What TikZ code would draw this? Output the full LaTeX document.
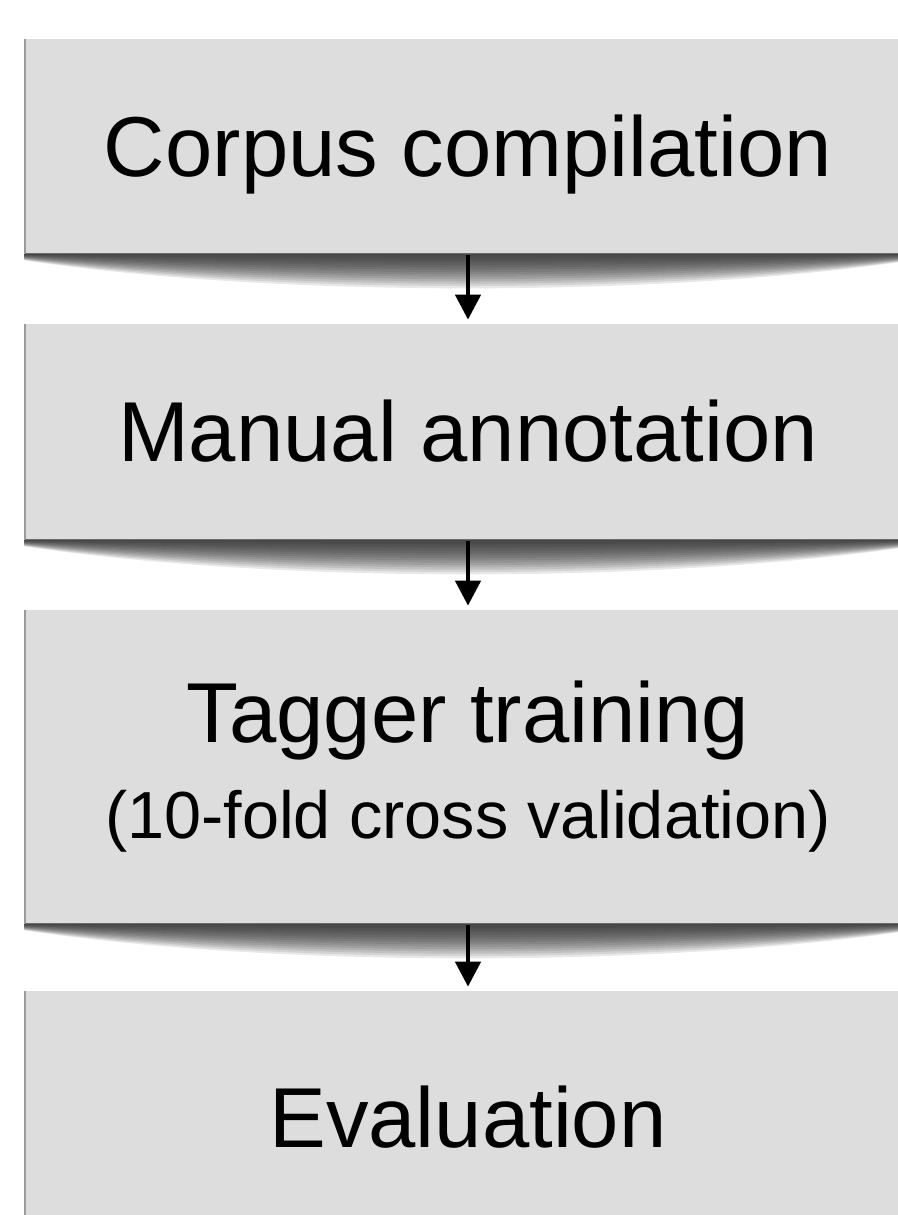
\documentclass[tikz,border=0pt]{standalone}
\usepackage{fontspec}
\setmainfont{Liberation Sans}
\usepackage{xcolor}
\usepackage{tikz}
\usetikzlibrary{arrows.meta}
\definecolor{stageGray}{HTML}{DDDDDD}
\definecolor{stageEdge}{HTML}{9A9A9A}

\begin{document}
\begin{tikzpicture}[
    stage/.style={
        fill=stageGray, draw=none, inner sep=0pt,
        minimum width=17.72cm,
        font=\fontsize{48.4}{54.6}\selectfont,
        text centered, align=center
    },
    capline/.style={text height=34.7pt, text depth=0pt},
    flow/.style={
        -{Triangle[width=0.5cm, length=0.5cm]},
        line width=0.09cm, color=black,
        shorten <=0.04cm, shorten >=0.08cm
    },
    edgeline/.style={draw=stageEdge, line width=0.04cm},
    curlshadow/.style={
        left color=black!90, middle color=black!60, right color=black!90,
        opacity=0.1
    },
]

%% =================================================================
%% Page frame
%% =================================================================
\useasboundingbox (0, 0) rectangle (17.96, -24.30);
\clip (0, 0) rectangle (17.96, -24.30);

%% =================================================================
%% Four stages (stacked vertically)
%% =================================================================
\node[stage, capline, minimum height=4.28cm] (corpus)
    at (9.36, -2.92)
    {Corpus compilation};

\node[stage, capline, minimum height=4.30cm] (manual)
    at (9.36, -8.63)
    {Manual annotation};

\node[stage, minimum height=6.26cm] (tagger)
    at (9.36, -15.33)
    {Tagger training\\
     {\fontsize{37.9}{54.6}\selectfont (10-fold cross validation)}};

\node[stage, capline, minimum height=5.04cm] (eval)
    at (9.36, -22.34)
    {Evaluation};

%% left edge of each stage
\foreach \s in {corpus, manual, tagger, eval}
    \draw[edgeline] (\s.north west) -- (\s.south west);

%% curled shadow under each stage (soft, built from thin layers)
\foreach \s in {corpus, manual, tagger}
  \foreach \i in {1,...,15} {
    \pgfmathsetmacro{\endd}{0.02 + 0.008*\i}
    \pgfmathsetmacro{\ctrl}{(0.7*\i/15 - 0.25*\endd)/0.75}
    \shade[curlshadow] (\s.south west) -- (\s.south east)
        -- ([yshift=-\endd cm]\s.south east)
        .. controls ([xshift=-5cm, yshift=-\ctrl cm]\s.south east)
        and ([xshift=5cm, yshift=-\ctrl cm]\s.south west)
        .. ([yshift=-\endd cm]\s.south west) -- cycle;
  }

%% =================================================================
%% Stage -> next stage
%% =================================================================
\draw[flow] (corpus.south) -- (manual.north);
\draw[flow] (manual.south) -- (tagger.north);
\draw[flow] (tagger.south) -- (eval.north);

\end{tikzpicture}
\end{document}
